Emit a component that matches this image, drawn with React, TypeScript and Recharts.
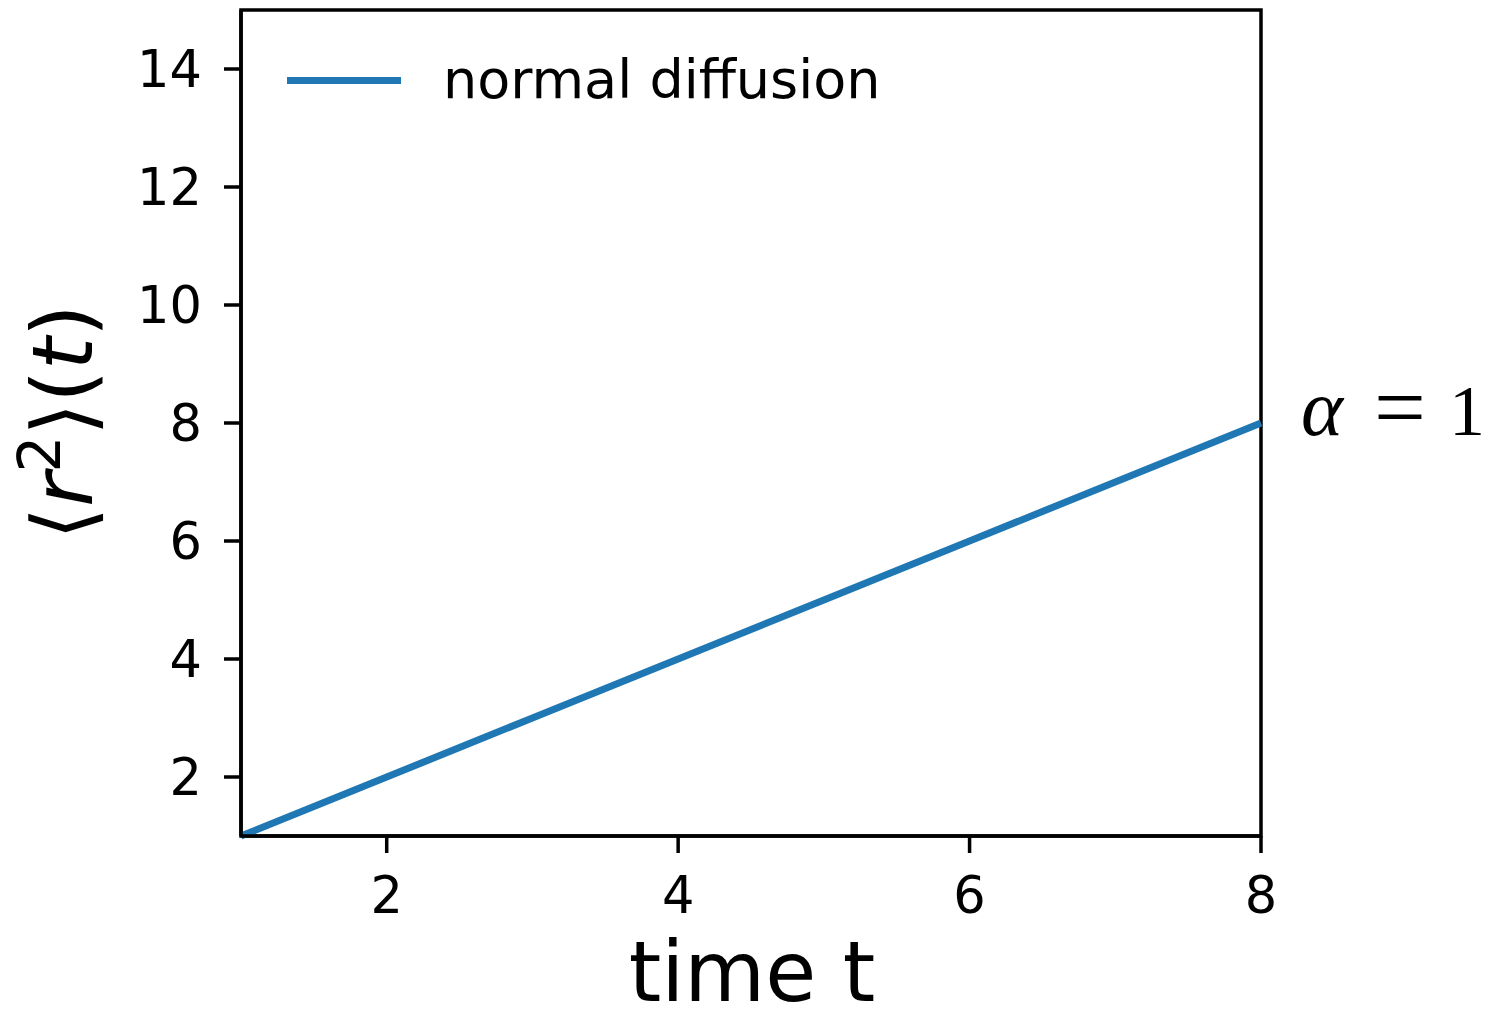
import { LineChart, Line, XAxis, YAxis, Legend, ReferenceArea, Customized } from "recharts";

// (straight line through the origin scale)
const timeValues = [1, 2, 3, 4, 5, 6, 7, 8];
const msdValues = [1, 2, 3, 4, 5, 6, 7, 8];
const xTicks = [2, 4, 6, 8];
const yTicks = [2, 4, 6, 8, 10, 12, 14];
const seriesName = "normal diffusion";
const xLabel = "time t";

const chartData = timeValues.map((t, i) => ({ t, msd: msdValues[i] }));

const BLUE = "#1f77b4";
const FONT = "'DejaVu Sans', sans-serif";

function LegendBox() {
  return (
    <div style={{ display: "flex", alignItems: "center", fontFamily: FONT, fontSize: 54 }}>
      <div style={{ width: 114, height: 7, background: BLUE, marginRight: 42 }} />
      <span style={{ color: "#000", lineHeight: "60px" }}>{seriesName}</span>
    </div>
  );
}

function Labels() {
  return (
    <g>
      <text x={752} y={1001} textAnchor="middle" fontFamily={FONT} fontSize={83} fill="#000">
        {xLabel}
      </text>
      <text
        x={0}
        y={0}
        transform="translate(92 422) rotate(-90)"
        textAnchor="middle"
        fontFamily={FONT}
        fontSize={84}
        fill="#000"
      >
        <tspan>⟨</tspan>
        <tspan fontStyle="italic">r</tspan>
        <tspan fontSize={58} dy={-32}>2</tspan>
        <tspan dy={32}>⟩(</tspan>
        <tspan fontStyle="italic">t</tspan>
        <tspan>)</tspan>
      </text>
      <text y={435} fontFamily="'Liberation Serif', serif" fill="#000">
        <tspan x={1301} fontSize={80} fontStyle="italic">α</tspan>
        <tspan x={1374} fontSize={92} dy={3}>=</tspan>
        <tspan x={1449} fontSize={72} dy={-3}>1</tspan>
      </text>
    </g>
  );
}

export default function App() {
  return (
    <div style={{ position: "absolute", left: 0, top: 0, width: 1494, height: 1021, background: "#fff" }}>
      <LineChart
        width={1494}
        height={1021}
        data={chartData}
        margin={{ top: 10, right: 233, bottom: 85, left: 101 }}
      >
        <XAxis
          dataKey="t"
          type="number"
          domain={[1, 8]}
          ticks={xTicks}
          height={100}
          tickSize={17}
          tickMargin={24}
          axisLine={{ stroke: "#000", strokeWidth: 3.5 }}
          tickLine={{ stroke: "#000", strokeWidth: 3.5 }}
          tick={{ fill: "#000", fontSize: 51, fontFamily: FONT }}
        />
        <YAxis
          type="number"
          domain={[1, 15]}
          ticks={yTicks}
          width={140}
          tickSize={17}
          tickMargin={22}
          axisLine={{ stroke: "#000", strokeWidth: 3.5 }}
          tickLine={{ stroke: "#000", strokeWidth: 3.5 }}
          tick={{ fill: "#000", fontSize: 51, fontFamily: FONT }}
        />
        <Legend
          layout="vertical"
          align="center"
          verticalAlign="middle"
          wrapperStyle={{ position: "absolute", left: 287, top: 50, width: "auto" }}
          content={() => <LegendBox />}
        />
        <Line
          type="linear"
          dataKey="msd"
          name={seriesName}
          stroke={BLUE}
          strokeWidth={7}
          dot={false}
          isAnimationActive={false}
        />
        <ReferenceArea x1={1} x2={8} y1={1} y2={15} fill="none" stroke="#000" strokeWidth={3.5} />
        <Customized component={Labels} />
      </LineChart>
    </div>
  );
}
